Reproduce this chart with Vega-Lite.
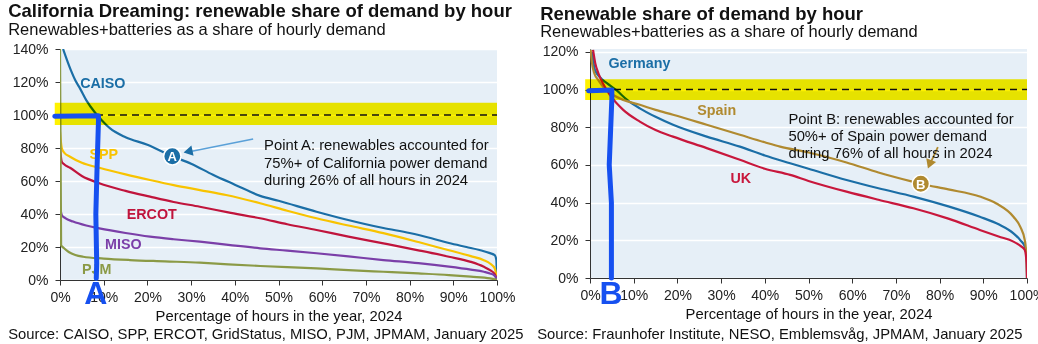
{
  "$schema": "https://vega.github.io/schema/vega-lite/v6.json",
  "padding": {"left": 8, "top": 2, "right": 4, "bottom": 2},
  "background": "white",
  "spacing": 13,
  "config": {
    "font": "Liberation Sans",
    "view": {"fill": "#e6eff7", "stroke": null},
    "title": {"anchor": "start", "frame": "bounds", "fontSize": 18.5, "fontWeight": "bold", "color": "#111111", "subtitleFontSize": 16.5, "subtitleColor": "#111111", "subtitlePadding": 1, "offset": 4},
    "axis": {"labelFontSize": 14, "labelColor": "#222222", "titleFontSize": 14.8, "titleFontWeight": "normal", "titleColor": "#111111", "domainColor": "#333333", "tickColor": "#333333", "tickSize": 5, "labelFlush": false, "labelOverlap": false},
    "axisY": {"gridColor": "#ffffff", "gridWidth": 1.5, "labelPadding": 7},
    "axisX": {"grid": false, "labelPadding": 5, "titlePadding": 4}
  },
  "resolve": {"scale": {"color": "independent"}},
  "datasets": {
    "ca": [
      {"region": "CAISO", "hours": 0.7, "share": 140}, {"region": "CAISO", "hours": 1.5, "share": 134}, {"region": "CAISO", "hours": 2.5, "share": 127}, {"region": "CAISO", "hours": 3.5, "share": 121}, {"region": "CAISO", "hours": 4.6, "share": 116}, {"region": "CAISO", "hours": 6, "share": 109}, {"region": "CAISO", "hours": 8, "share": 101.5}, {"region": "CAISO", "hours": 9.5, "share": 97}, {"region": "CAISO", "hours": 11.4, "share": 92}, {"region": "CAISO", "hours": 15, "share": 86.5}, {"region": "CAISO", "hours": 20, "share": 82}, {"region": "CAISO", "hours": 25.7, "share": 75}, {"region": "CAISO", "hours": 30, "share": 70.5}, {"region": "CAISO", "hours": 35, "share": 63.8}, {"region": "CAISO", "hours": 40, "share": 57.8}, {"region": "CAISO", "hours": 45.8, "share": 51}, {"region": "CAISO", "hours": 50, "share": 48}, {"region": "CAISO", "hours": 58.7, "share": 41.4}, {"region": "CAISO", "hours": 65, "share": 37}, {"region": "CAISO", "hours": 74, "share": 31.5}, {"region": "CAISO", "hours": 80, "share": 28.5}, {"region": "CAISO", "hours": 85, "share": 25.3}, {"region": "CAISO", "hours": 89, "share": 22.4}, {"region": "CAISO", "hours": 93, "share": 20}, {"region": "CAISO", "hours": 96, "share": 18.2}, {"region": "CAISO", "hours": 98.4, "share": 16.3}, {"region": "CAISO", "hours": 99.5, "share": 15}, {"region": "CAISO", "hours": 99.85, "share": 12}, {"region": "CAISO", "hours": 100, "share": 0},
      {"region": "SPP", "hours": 0, "share": 90}, {"region": "SPP", "hours": 0.4, "share": 80}, {"region": "SPP", "hours": 1, "share": 77}, {"region": "SPP", "hours": 2.3, "share": 74.7}, {"region": "SPP", "hours": 5, "share": 71}, {"region": "SPP", "hours": 9, "share": 68}, {"region": "SPP", "hours": 15, "share": 64}, {"region": "SPP", "hours": 20.6, "share": 60.6}, {"region": "SPP", "hours": 26, "share": 57.5}, {"region": "SPP", "hours": 32, "share": 54.5}, {"region": "SPP", "hours": 38, "share": 51.5}, {"region": "SPP", "hours": 45.8, "share": 46.5}, {"region": "SPP", "hours": 52, "share": 42}, {"region": "SPP", "hours": 58.7, "share": 37.4}, {"region": "SPP", "hours": 66, "share": 33}, {"region": "SPP", "hours": 74, "share": 28.4}, {"region": "SPP", "hours": 82, "share": 23}, {"region": "SPP", "hours": 89, "share": 18}, {"region": "SPP", "hours": 94, "share": 14.5}, {"region": "SPP", "hours": 97, "share": 12}, {"region": "SPP", "hours": 98.4, "share": 10}, {"region": "SPP", "hours": 99.5, "share": 7}, {"region": "SPP", "hours": 100, "share": 0},
      {"region": "ERCOT", "hours": 0, "share": 80}, {"region": "ERCOT", "hours": 0.4, "share": 71.7}, {"region": "ERCOT", "hours": 1, "share": 70}, {"region": "ERCOT", "hours": 2.3, "share": 68}, {"region": "ERCOT", "hours": 5, "share": 63}, {"region": "ERCOT", "hours": 9, "share": 58.6}, {"region": "ERCOT", "hours": 15, "share": 54}, {"region": "ERCOT", "hours": 20.6, "share": 50.5}, {"region": "ERCOT", "hours": 26, "share": 47.3}, {"region": "ERCOT", "hours": 32, "share": 44.4}, {"region": "ERCOT", "hours": 38.5, "share": 41}, {"region": "ERCOT", "hours": 45.8, "share": 37.4}, {"region": "ERCOT", "hours": 52, "share": 33.8}, {"region": "ERCOT", "hours": 58.7, "share": 30.3}, {"region": "ERCOT", "hours": 66, "share": 26.3}, {"region": "ERCOT", "hours": 74, "share": 22.2}, {"region": "ERCOT", "hours": 82, "share": 18}, {"region": "ERCOT", "hours": 89, "share": 14.1}, {"region": "ERCOT", "hours": 94, "share": 11}, {"region": "ERCOT", "hours": 97, "share": 8}, {"region": "ERCOT", "hours": 98.4, "share": 6}, {"region": "ERCOT", "hours": 99.5, "share": 3.5}, {"region": "ERCOT", "hours": 100, "share": 0},
      {"region": "MISO", "hours": 0, "share": 45}, {"region": "MISO", "hours": 0.4, "share": 39.4}, {"region": "MISO", "hours": 1.2, "share": 37.5}, {"region": "MISO", "hours": 3, "share": 35.4}, {"region": "MISO", "hours": 6, "share": 33}, {"region": "MISO", "hours": 9, "share": 31.3}, {"region": "MISO", "hours": 15, "share": 28.5}, {"region": "MISO", "hours": 20.6, "share": 26.3}, {"region": "MISO", "hours": 26, "share": 24.7}, {"region": "MISO", "hours": 32, "share": 23.2}, {"region": "MISO", "hours": 38.5, "share": 21.3}, {"region": "MISO", "hours": 45.8, "share": 19.2}, {"region": "MISO", "hours": 52, "share": 17.8}, {"region": "MISO", "hours": 58.7, "share": 16.2}, {"region": "MISO", "hours": 66, "share": 14.3}, {"region": "MISO", "hours": 74, "share": 12.1}, {"region": "MISO", "hours": 82, "share": 10.2}, {"region": "MISO", "hours": 89, "share": 8.1}, {"region": "MISO", "hours": 94, "share": 6.3}, {"region": "MISO", "hours": 97, "share": 5}, {"region": "MISO", "hours": 98.4, "share": 4}, {"region": "MISO", "hours": 99.5, "share": 2.5}, {"region": "MISO", "hours": 100, "share": 0},
      {"region": "PJM", "hours": 0, "share": 140}, {"region": "PJM", "hours": 0.25, "share": 21}, {"region": "PJM", "hours": 0.8, "share": 19.5}, {"region": "PJM", "hours": 2, "share": 17}, {"region": "PJM", "hours": 3.5, "share": 15.2}, {"region": "PJM", "hours": 5.3, "share": 14.1}, {"region": "PJM", "hours": 10, "share": 13}, {"region": "PJM", "hours": 16, "share": 12.1}, {"region": "PJM", "hours": 24, "share": 11.3}, {"region": "PJM", "hours": 32, "share": 10.5}, {"region": "PJM", "hours": 38.5, "share": 9.5}, {"region": "PJM", "hours": 45.8, "share": 8.5}, {"region": "PJM", "hours": 52, "share": 7.8}, {"region": "PJM", "hours": 58.7, "share": 7.1}, {"region": "PJM", "hours": 66, "share": 6}, {"region": "PJM", "hours": 74, "share": 5}, {"region": "PJM", "hours": 82, "share": 4}, {"region": "PJM", "hours": 89, "share": 3}, {"region": "PJM", "hours": 94, "share": 2}, {"region": "PJM", "hours": 98.4, "share": 1}, {"region": "PJM", "hours": 100, "share": 0}
    ],
    "eu": [
      {"region": "Germany", "hours": 0.5, "share": 120}, {"region": "Germany", "hours": 1.1, "share": 110.5}, {"region": "Germany", "hours": 2.3, "share": 106.5}, {"region": "Germany", "hours": 3.8, "share": 103.5}, {"region": "Germany", "hours": 6.1, "share": 99.5}, {"region": "Germany", "hours": 8.5, "share": 94.5}, {"region": "Germany", "hours": 11.4, "share": 90}, {"region": "Germany", "hours": 15, "share": 85.5}, {"region": "Germany", "hours": 19, "share": 81.3}, {"region": "Germany", "hours": 26.7, "share": 75}, {"region": "Germany", "hours": 34.3, "share": 69.7}, {"region": "Germany", "hours": 40, "share": 65}, {"region": "Germany", "hours": 45.8, "share": 60.9}, {"region": "Germany", "hours": 50, "share": 58}, {"region": "Germany", "hours": 58.7, "share": 52}, {"region": "Germany", "hours": 66, "share": 47.6}, {"region": "Germany", "hours": 74, "share": 43.2}, {"region": "Germany", "hours": 82, "share": 38}, {"region": "Germany", "hours": 89.2, "share": 32.5}, {"region": "Germany", "hours": 93.5, "share": 28.5}, {"region": "Germany", "hours": 96.9, "share": 23.7}, {"region": "Germany", "hours": 98.5, "share": 20}, {"region": "Germany", "hours": 99.5, "share": 16.6}, {"region": "Germany", "hours": 99.9, "share": 12}, {"region": "Germany", "hours": 100, "share": 0},
      {"region": "Spain", "hours": 0.15, "share": 121}, {"region": "Spain", "hours": 0.4, "share": 115}, {"region": "Spain", "hours": 1, "share": 108.5}, {"region": "Spain", "hours": 1.9, "share": 105}, {"region": "Spain", "hours": 3, "share": 101.5}, {"region": "Spain", "hours": 4, "share": 99.3}, {"region": "Spain", "hours": 5.5, "share": 96.8}, {"region": "Spain", "hours": 7.6, "share": 94.5}, {"region": "Spain", "hours": 11.4, "share": 91.9}, {"region": "Spain", "hours": 15, "share": 89.2}, {"region": "Spain", "hours": 19, "share": 86.6}, {"region": "Spain", "hours": 26.7, "share": 81.3}, {"region": "Spain", "hours": 34.3, "share": 76}, {"region": "Spain", "hours": 40, "share": 72}, {"region": "Spain", "hours": 43.5, "share": 69.7}, {"region": "Spain", "hours": 50, "share": 66.6}, {"region": "Spain", "hours": 58.7, "share": 61.3}, {"region": "Spain", "hours": 66, "share": 56}, {"region": "Spain", "hours": 74, "share": 51}, {"region": "Spain", "hours": 75.7, "share": 50}, {"region": "Spain", "hours": 82, "share": 47}, {"region": "Spain", "hours": 89.2, "share": 43.2}, {"region": "Spain", "hours": 93, "share": 39.5}, {"region": "Spain", "hours": 96.9, "share": 32.5}, {"region": "Spain", "hours": 98.5, "share": 27}, {"region": "Spain", "hours": 99.5, "share": 20}, {"region": "Spain", "hours": 99.9, "share": 10}, {"region": "Spain", "hours": 100, "share": 0},
      {"region": "UK", "hours": 0.7, "share": 121}, {"region": "UK", "hours": 1.2, "share": 114}, {"region": "UK", "hours": 1.9, "share": 108.7}, {"region": "UK", "hours": 3, "share": 103}, {"region": "UK", "hours": 4.6, "share": 97}, {"region": "UK", "hours": 7.6, "share": 89.2}, {"region": "UK", "hours": 11.4, "share": 83}, {"region": "UK", "hours": 15, "share": 78.5}, {"region": "UK", "hours": 19, "share": 75}, {"region": "UK", "hours": 26.7, "share": 68.9}, {"region": "UK", "hours": 34.3, "share": 62.7}, {"region": "UK", "hours": 40, "share": 58}, {"region": "UK", "hours": 45.8, "share": 54.7}, {"region": "UK", "hours": 50, "share": 51.5}, {"region": "UK", "hours": 58.7, "share": 45.8}, {"region": "UK", "hours": 66, "share": 41.5}, {"region": "UK", "hours": 74, "share": 37}, {"region": "UK", "hours": 82, "share": 31.5}, {"region": "UK", "hours": 89.2, "share": 25.5}, {"region": "UK", "hours": 93.5, "share": 22}, {"region": "UK", "hours": 96.9, "share": 19.3}, {"region": "UK", "hours": 98.5, "share": 17}, {"region": "UK", "hours": 99.5, "share": 14.9}, {"region": "UK", "hours": 99.9, "share": 8}, {"region": "UK", "hours": 100, "share": 0}
    ],
    "handA": [
      {"i": 0, "hours": -1.2, "share": 99.2}, {"i": 1, "hours": 8.8, "share": 99.5}, {"i": 2, "hours": 8.8, "share": 96}, {"i": 3, "hours": 8.5, "share": 70}, {"i": 4, "hours": 8.2, "share": 40}, {"i": 5, "hours": 8.4, "share": 10}, {"i": 6, "hours": 8.3, "share": 1}
    ],
    "handB": [
      {"i": 0, "hours": -0.3, "share": 99.3}, {"i": 1, "hours": 5, "share": 99.8}, {"i": 2, "hours": 5, "share": 95}, {"i": 3, "hours": 4.4, "share": 60}, {"i": 4, "hours": 4.9, "share": 40}, {"i": 5, "hours": 4.9, "share": 0}
    ]
  },
  "hconcat": [
    {
      "title": {"text": "Source: CAISO, SPP, ERCOT, GridStatus, MISO, PJM, JPMAM, January 2025", "orient": "bottom", "anchor": "start", "fontSize": 14.8, "fontWeight": "normal", "offset": 4},
      "vconcat": [
        {
          "title": {"text": "California Dreaming: renewable share of demand by hour", "subtitle": "Renewables+batteries as a share of hourly demand", "dx": -4},
          "width": 437,
          "height": 231,
          "resolve": {"axis": {"x": "independent", "y": "independent"}},
          "layer": [
            {
              "data": {"name": "ca"},
              "mark": {"type": "line", "interpolate": "monotone", "strokeWidth": 2.2, "clip": true},
              "encoding": {
                "x": {"field": "hours", "type": "quantitative", "scale": {"domain": [0, 100], "nice": false}, "axis": {"values": [0, 10, 20, 30, 40, 50, 60, 70, 80, 90, 100], "labelExpr": "datum.value + '%'", "title": "Percentage of hours in the year, 2024"}},
                "y": {"field": "share", "type": "quantitative", "scale": {"domain": [0, 140], "nice": false}, "axis": {"values": [0, 20, 40, 60, 80, 100, 120, 140], "labelExpr": "datum.value + '%'", "title": null}},
                "color": {"field": "region", "type": "nominal", "scale": {"domain": ["PJM", "MISO", "ERCOT", "SPP", "CAISO"], "range": ["#8b9a46", "#7b3fa8", "#c0143c", "#f8c300", "#1b6ea6"]}, "legend": null}
              }
            },
            {"data": {"values": [{}]}, "mark": {"type": "rect", "color": "#fff200", "blend": "multiply"}, "encoding": {"x": {"datum": -1.2, "axis": null}, "x2": {"datum": 100}, "y": {"datum": 94, "axis": null}, "y2": {"datum": 107.5}}},
            {"data": {"values": [{}]}, "mark": {"type": "rule", "color": "#111111", "strokeWidth": 1.5, "strokeDash": [7, 5]}, "encoding": {"x": {"datum": 0, "axis": null}, "x2": {"datum": 100}, "y": {"datum": 100, "axis": null}}},
            {"data": {"values": [{}]}, "mark": {"type": "text", "text": "CAISO", "color": "#1b6ea6", "fontWeight": "bold", "fontSize": 14.3}, "encoding": {"x": {"datum": 9.8, "axis": null}, "y": {"datum": 119, "axis": null}}},
            {"data": {"values": [{}]}, "mark": {"type": "text", "text": "SPP", "color": "#f8c300", "fontWeight": "bold", "fontSize": 14.3}, "encoding": {"x": {"datum": 10, "axis": null}, "y": {"datum": 76, "axis": null}}},
            {"data": {"values": [{}]}, "mark": {"type": "text", "text": "ERCOT", "color": "#c0143c", "fontWeight": "bold", "fontSize": 14.3}, "encoding": {"x": {"datum": 21, "axis": null}, "y": {"datum": 39.4, "axis": null}}},
            {"data": {"values": [{}]}, "mark": {"type": "text", "text": "MISO", "color": "#7b3fa8", "fontWeight": "bold", "fontSize": 14.3}, "encoding": {"x": {"datum": 14.5, "axis": null}, "y": {"datum": 21, "axis": null}}},
            {"data": {"values": [{}]}, "mark": {"type": "text", "text": "PJM", "color": "#8b9a46", "fontWeight": "bold", "fontSize": 14.3}, "encoding": {"x": {"datum": 8.4, "axis": null}, "y": {"datum": 6, "axis": null}}},
            {"data": {"values": [{}]}, "mark": {"type": "rule", "color": "#5aa0d8", "strokeWidth": 1.5}, "encoding": {"x": {"datum": 44.2, "axis": null}, "x2": {"datum": 29.6}, "y": {"datum": 85.5, "axis": null}, "y2": {"datum": 77.7}}},
            {"data": {"values": [{}]}, "mark": {"type": "point", "shape": "triangle-left", "filled": true, "opacity": 1, "size": 110, "angle": 348, "color": "#1b6ea6"}, "encoding": {"x": {"datum": 29.3, "axis": null}, "y": {"datum": 77.8, "axis": null}}},
            {"data": {"values": [{}]}, "mark": {"type": "point", "shape": "circle", "filled": true, "opacity": 1, "size": 300, "color": "#1b6ea6", "stroke": "#ffffff", "strokeWidth": 1.5}, "encoding": {"x": {"datum": 25.7, "axis": null}, "y": {"datum": 75, "axis": null}}},
            {"data": {"values": [{}]}, "mark": {"type": "text", "text": "A", "color": "#ffffff", "fontWeight": "bold", "fontSize": 13, "dy": 1}, "encoding": {"x": {"datum": 25.7, "axis": null}, "y": {"datum": 75, "axis": null}}},
            {"data": {"values": [{}]}, "mark": {"type": "text", "text": ["Point A: renewables accounted for", "75%+ of California power demand", "during 26% of all hours in 2024"], "align": "left", "baseline": "middle", "lineHeight": 17.5, "fontSize": 14.8, "color": "#111111"}, "encoding": {"x": {"datum": 46.7, "axis": null}, "y": {"datum": 81.2, "axis": null}}},
            {"data": {"name": "handA"}, "mark": {"type": "line", "color": "#1650f0", "strokeWidth": 5, "strokeCap": "round", "strokeJoin": "round"}, "encoding": {"x": {"field": "hours", "type": "quantitative", "axis": null}, "y": {"field": "share", "type": "quantitative", "axis": null}, "order": {"field": "i"}}},
            {"data": {"values": [{}]}, "mark": {"type": "text", "text": "A", "color": "#1650f0", "fontWeight": "bold", "fontSize": 32}, "encoding": {"x": {"datum": 8.2, "axis": null}, "y": {"datum": -8.5, "axis": null}}}
          ]
        }
      ]
    },
    {
      "title": {"text": "Source: Fraunhofer Institute, NESO, Emblemsvåg, JPMAM, January 2025", "orient": "bottom", "anchor": "start", "fontSize": 14.8, "fontWeight": "normal", "offset": 6, "dx": -3},
      "vconcat": [
        {
          "title": {"text": "Renewable share of demand by hour", "subtitle": "Renewables+batteries as a share of hourly demand", "dx": -2},
          "width": 437,
          "height": 229,
          "resolve": {"axis": {"x": "independent", "y": "independent"}},
          "layer": [
            {
              "data": {"name": "eu"},
              "mark": {"type": "line", "interpolate": "monotone", "strokeWidth": 2.2, "clip": true},
              "encoding": {
                "x": {"field": "hours", "type": "quantitative", "scale": {"domain": [0, 100], "nice": false}, "axis": {"values": [0, 10, 20, 30, 40, 50, 60, 70, 80, 90, 100], "labelExpr": "datum.value + '%'", "title": "Percentage of hours in the year, 2024"}},
                "y": {"field": "share", "type": "quantitative", "scale": {"domain": [0, 121.5], "nice": false}, "axis": {"values": [0, 20, 40, 60, 80, 100, 120], "labelExpr": "datum.value + '%'", "title": null}},
                "color": {"field": "region", "type": "nominal", "scale": {"domain": ["UK", "Germany", "Spain"], "range": ["#c8173c", "#1b6ea6", "#b08a30"]}, "legend": null}
              }
            },
            {"data": {"values": [{}]}, "mark": {"type": "rect", "color": "#fff200", "blend": "multiply"}, "encoding": {"x": {"datum": -1.1, "axis": null}, "x2": {"datum": 100}, "y": {"datum": 94.5, "axis": null}, "y2": {"datum": 105.5}}},
            {"data": {"values": [{}]}, "mark": {"type": "rule", "color": "#111111", "strokeWidth": 1.5, "strokeDash": [7, 5]}, "encoding": {"x": {"datum": 0, "axis": null}, "x2": {"datum": 100}, "y": {"datum": 100, "axis": null}}},
            {"data": {"values": [{}]}, "mark": {"type": "text", "text": "Germany", "color": "#1b6ea6", "fontWeight": "bold", "fontSize": 14.3}, "encoding": {"x": {"datum": 11.3, "axis": null}, "y": {"datum": 113.6, "axis": null}}},
            {"data": {"values": [{}]}, "mark": {"type": "text", "text": "Spain", "color": "#b08a30", "fontWeight": "bold", "fontSize": 14.3}, "encoding": {"x": {"datum": 29, "axis": null}, "y": {"datum": 88.7, "axis": null}}},
            {"data": {"values": [{}]}, "mark": {"type": "text", "text": "UK", "color": "#c8173c", "fontWeight": "bold", "fontSize": 14.3}, "encoding": {"x": {"datum": 34.5, "axis": null}, "y": {"datum": 52.4, "axis": null}}},
            {"data": {"values": [{}]}, "mark": {"type": "rule", "color": "#b08a30", "strokeWidth": 1.8}, "encoding": {"x": {"datum": 79.6, "axis": null}, "x2": {"datum": 77.9}, "y": {"datum": 69.4, "axis": null}, "y2": {"datum": 61}}},
            {"data": {"values": [{}]}, "mark": {"type": "point", "shape": "triangle-down", "filled": true, "opacity": 1, "size": 110, "angle": 21, "color": "#b08a30"}, "encoding": {"x": {"datum": 77.7, "axis": null}, "y": {"datum": 60.3, "axis": null}}},
            {"data": {"values": [{}]}, "mark": {"type": "point", "shape": "circle", "filled": true, "opacity": 1, "size": 300, "color": "#b08a30", "stroke": "#ffffff", "strokeWidth": 1.5}, "encoding": {"x": {"datum": 75.7, "axis": null}, "y": {"datum": 50, "axis": null}}},
            {"data": {"values": [{}]}, "mark": {"type": "text", "text": "B", "color": "#ffffff", "fontWeight": "bold", "fontSize": 13, "dy": 1}, "encoding": {"x": {"datum": 75.7, "axis": null}, "y": {"datum": 50, "axis": null}}},
            {"data": {"values": [{}]}, "mark": {"type": "text", "text": ["Point B: renewables accounted for", "50%+ of Spain power demand", "during 76% of all hours in 2024"], "align": "left", "baseline": "middle", "lineHeight": 17.2, "fontSize": 14.8, "color": "#111111"}, "encoding": {"x": {"datum": 45.4, "axis": null}, "y": {"datum": 83.9, "axis": null}}},
            {"data": {"name": "handB"}, "mark": {"type": "line", "color": "#1650f0", "strokeWidth": 5, "strokeCap": "round", "strokeJoin": "round"}, "encoding": {"x": {"field": "hours", "type": "quantitative", "axis": null}, "y": {"field": "share", "type": "quantitative", "axis": null}, "order": {"field": "i"}}},
            {"data": {"values": [{}]}, "mark": {"type": "text", "text": "B", "color": "#1650f0", "fontWeight": "bold", "fontSize": 32}, "encoding": {"x": {"datum": 4.8, "axis": null}, "y": {"datum": -8.5, "axis": null}}}
          ]
        }
      ]
    }
  ]
}
